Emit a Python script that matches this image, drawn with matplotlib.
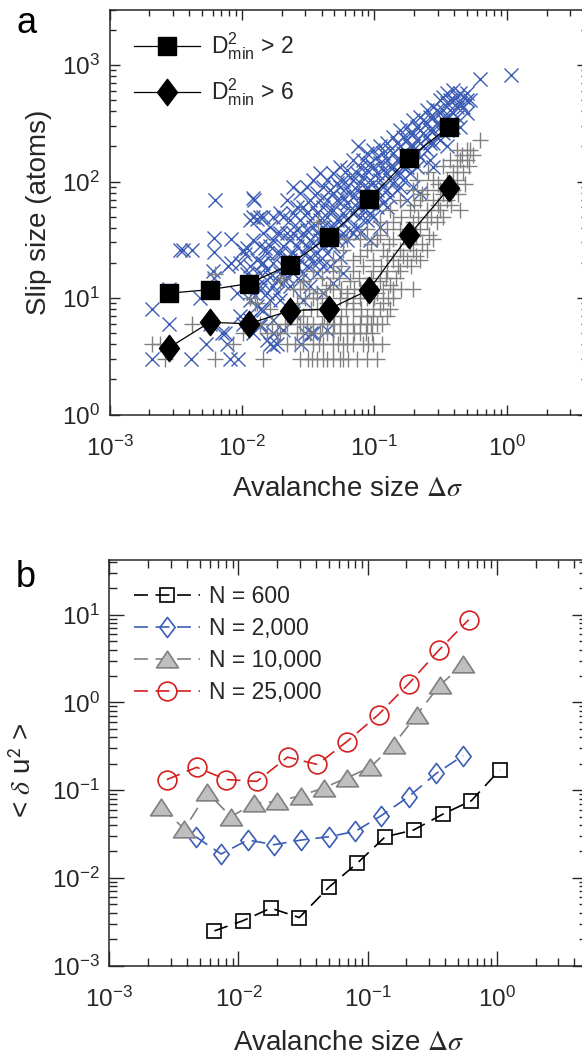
import matplotlib
matplotlib.use("Agg")
import matplotlib.pyplot as plt
from matplotlib.path import Path
from matplotlib.ticker import LogLocator, NullFormatter
import numpy as np

plt.rcParams["font.family"] = ["Liberation Sans", "DejaVu Sans"]
plt.rcParams["mathtext.fontset"] = "custom"
plt.rcParams["mathtext.rm"] = "Liberation Sans"
plt.rcParams["mathtext.it"] = "Liberation Sans:italic"
plt.rcParams["mathtext.bf"] = "Liberation Sans:bold"
plt.rcParams["axes.unicode_minus"] = False
plt.rcParams["lines.scale_dashes"] = False

INK = "#262626"
BLUE = "#3b5db5"
GRAY = "#808080"
RED = "#d42020"

# ---------------- panel a: slip size vs avalanche size ----------------
# avalanches with slipped atoms D2min > 2 (blue crosses)
blue_x = [
    0.0021, 0.0021, 0.0028, 0.0028, 0.0034, 0.0036, 0.0042, 0.0041, 0.0048, 0.0054,
    0.0063, 0.0062, 0.0062, 0.0062, 0.0077, 0.0081, 0.0082, 0.0082, 0.0094, 0.0091,
    0.0102, 0.0105, 0.0122, 0.0124, 0.0122, 0.0129, 0.0145, 0.0149, 0.0141, 0.0102,
    0.0096, 0.0074, 0.0057, 0.0061, 0.0079, 0.0109, 0.0097, 0.0109, 0.0071, 0.0163,
    0.0183, 0.0172, 0.0137, 0.0140, 0.0300, 0.0330, 0.0280,
    0.0115, 0.0115, 0.0115, 0.0115, 0.0115,
    0.0122, 0.0122, 0.0122, 0.0122,
    0.0129, 0.0129, 0.0129,
    0.0137, 0.0137, 0.0137, 0.0137, 0.0137,
    0.0145, 0.0145, 0.0145, 0.0145,
    0.0154, 0.0154, 0.0154, 0.0154,
    0.0163, 0.0163, 0.0163, 0.0163,
    0.0173, 0.0173, 0.0173, 0.0173, 0.0173, 0.0173,
    0.0183, 0.0183, 0.0183, 0.0183,
    0.0194, 0.0194, 0.0194, 0.0194, 0.0194,
    0.0206, 0.0206, 0.0206, 0.0206, 0.0206,
    0.0218, 0.0218, 0.0218, 0.0218,
    0.0231, 0.0231, 0.0231, 0.0231,
    0.0245, 0.0245, 0.0245, 0.0245, 0.0245, 0.0245,
    0.0259, 0.0259, 0.0259, 0.0259,
    0.0275, 0.0275, 0.0275, 0.0275, 0.0275,
    0.0291, 0.0291, 0.0291, 0.0291, 0.0291,
    0.0308, 0.0308, 0.0308, 0.0308, 0.0308,
    0.0327, 0.0327, 0.0327, 0.0327, 0.0327,
    0.0346, 0.0346, 0.0346, 0.0346, 0.0346, 0.0346,
    0.0367, 0.0367, 0.0367, 0.0367, 0.0367,
    0.0389, 0.0389, 0.0389, 0.0389, 0.0389,
    0.0412, 0.0412, 0.0412, 0.0412, 0.0412, 0.0412,
    0.0437, 0.0437, 0.0437, 0.0437, 0.0437, 0.0437,
    0.0463, 0.0463, 0.0463, 0.0463, 0.0463,
    0.0491, 0.0491, 0.0491, 0.0491, 0.0491, 0.0491,
    0.0520, 0.0520, 0.0520, 0.0520,
    0.0551, 0.0551, 0.0551, 0.0551, 0.0551, 0.0551,
    0.0584, 0.0584, 0.0584, 0.0584, 0.0584,
    0.0619, 0.0619, 0.0619, 0.0619, 0.0619,
    0.0655, 0.0655, 0.0655, 0.0655,
    0.0695, 0.0695, 0.0695, 0.0695, 0.0695,
    0.0736, 0.0736, 0.0736, 0.0736,
    0.0757,
    0.0780, 0.0780, 0.0780, 0.0780, 0.0780,
    0.0826, 0.0826, 0.0826, 0.0826,
    0.0876, 0.0876, 0.0876, 0.0876, 0.0876,
    0.0928, 0.0928, 0.0928, 0.0928, 0.0928,
    0.0984, 0.0984, 0.0984, 0.0984, 0.0984,
    0.1042, 0.1042, 0.1042, 0.1042,
    0.110, 0.110, 0.110, 0.110, 0.110,
    0.117, 0.117, 0.117, 0.117,
    0.124, 0.124, 0.124, 0.124, 0.124,
    0.1314, 0.1314, 0.1314, 0.1314,
    0.139, 0.139, 0.139, 0.139,
    0.1476, 0.1476, 0.1476, 0.1476,
    0.156, 0.156, 0.156, 0.156, 0.156,
    0.1657, 0.1657, 0.1657, 0.1657,
    0.176, 0.176, 0.176, 0.176, 0.176,
    0.186, 0.186, 0.186, 0.186,
    0.197, 0.197, 0.197, 0.197, 0.197,
    0.209, 0.209, 0.209, 0.209,
    0.221, 0.221, 0.221, 0.221, 0.221,
    0.2346, 0.2346, 0.2346,
    0.249, 0.249, 0.249, 0.249,
    0.2635, 0.2635, 0.2635, 0.2635,
    0.279, 0.279, 0.279, 0.279, 0.279,
    0.296, 0.296, 0.296,
    0.313, 0.313, 0.313, 0.313,
    0.332, 0.332, 0.332, 0.332,
    0.352, 0.352, 0.352, 0.352, 0.352,
    0.373, 0.373, 0.373,
    0.395, 0.395, 0.395, 0.395,
    0.419, 0.419, 0.419,
    0.444, 0.444, 0.444,
    0.471, 0.471,
    0.499, 0.499, 0.499,
    0.529, 0.628, 1.07,
]
blue_y = [
    8, 3, 6, 12, 26, 26, 26, 3, 10, 4,
    70, 33, 25, 15, 4, 3, 32, 20, 3, 11,
    26, 24, 72, 69, 50, 48, 50, 27, 20, 6,
    7, 5, 6, 17, 19, 27, 20, 16, 5, 4,
    4, 5, 6, 8, 5, 5, 4,
    47, 18.7, 13.4, 9.7, 6.5,
    31.6, 15.3, 11, 5,
    21.3, 12.6, 8.5,
    50, 27.7, 16.4, 11.8, 5.7,
    36, 19.9, 13.4, 7.9,
    24.3, 17.5, 11, 4.4,
    41, 27.7, 15.3, 9.7,
    50, 31.6, 19.9, 12.6, 6.5, 3.85,
    36, 24.3, 14.4, 11,
    53.5, 36, 24.3, 16.4, 9.7,
    50, 27.7, 18.7, 13.4, 5.3,
    69.6, 36, 22.7, 15.3,
    46.9, 31.6, 21.3, 12.6,
    90.6, 53.5, 36, 24.3, 16.4, 7.4,
    61, 38.5, 27.7, 18.7,
    79.4, 46.9, 31.6, 21.3, 14.4,
    61, 36, 24.3, 16.4, 9.7,
    90.6, 53.5, 38.5, 27.7, 18.7,
    69.6, 46.9, 31.6, 22.7, 12.6,
    103, 61, 41, 29.6, 19.9, 5,
    79.4, 53.5, 36, 24.3, 16.4,
    118, 69.6, 46.9, 31.6, 21.3,
    90.6, 61, 41, 27.7, 18.7, 11,
    103, 69.6, 50, 36, 24.3, 5.3,
    84.8, 57.1, 41, 29.6, 18.7,
    118, 79.4, 57.1, 41, 27.7, 13.4,
    96.8, 69.6, 46.9, 31.6,
    134, 90.6, 65.2, 46.9, 33.8, 22.7,
    103, 74.3, 53.5, 36, 16.4,
    126, 90.6, 65.2, 46.9, 31.6,
    110, 79.4, 57.1, 38.5,
    153, 103, 74.3, 53.5, 36,
    118, 84.8, 61, 41,
    200,
    134, 96.8, 69.6, 50, 36,
    153, 110, 79.4, 57.1,
    175, 126, 90.6, 65.2, 46.9,
    144, 103, 74.3, 53.5, 31.6,
    187, 134, 96.8, 69.6, 50,
    164, 118, 84.8, 61,
    200, 144, 103, 74.3, 41,
    175, 126, 90.6, 65.2,
    213, 153, 118, 84.8, 61,
    187, 134, 103, 74.3,
    243, 175, 134, 96.8,
    213, 153, 118, 84.8,
    277, 200, 153, 118, 90.6,
    243, 175, 134, 103,
    296, 227, 175, 134, 69.6,
    259, 200, 153, 118,
    338, 259, 200, 153, 90.6,
    296, 227, 175, 134,
    361, 277, 213, 164, 79.4,
    338, 259, 200,
    411, 316, 243, 187,
    361, 277, 213, 153,
    439, 361, 277, 213, 134,
    411, 316, 243,
    501, 385, 296, 227,
    535, 411, 338, 259,
    571, 469, 361, 277, 200,
    501, 411, 316,
    611, 501, 385, 296,
    535, 439, 361,
    571, 469, 296,
    535, 439,
    571, 501, 385,
    501, 753, 820,
]

# avalanches with slipped atoms D2min > 6 (gray pluses)
gray_x = [
    0.00208, 0.0024, 0.00262, 0.00417, 0.00627, 0.00627, 0.00861, 0.0129, 0.0137, 0.0154,
    0.0145, 0.0183, 0.0194, 0.0102, 0.0115, 0.0125, 0.0163, 0.0170, 0.0206, 0.0245,
    0.0290, 0.0194, 0.0210,
    0.0275, 0.0317, 0.0367, 0.0437, 0.0491, 0.0551, 0.0637, 0.1042,
    0.0218, 0.0291, 0.0346, 0.0412, 0.0491, 0.0584, 0.0695, 0.0826, 0.0984, 0.1137,
    0.0259, 0.0327, 0.0389, 0.0491, 0.0619, 0.0780,
    0.0218, 0.0275, 0.0346, 0.0437, 0.0551, 0.0695, 0.0876, 0.1042,
    0.0231, 0.0291, 0.0367, 0.0491, 0.0695, 0.0876, 0.110, 0.124,
    0.0259, 0.0346, 0.0437, 0.0551, 0.0695, 0.0876, 0.117, 0.139,
    0.0275, 0.0367, 0.0491, 0.0619, 0.0780, 0.1042, 0.139, 0.197,
    0.0291, 0.0463, 0.0655, 0.0876, 0.110, 0.1314,
    0.0346, 0.0491, 0.0695, 0.0984, 0.124, 0.156,
    0.0491, 0.0695, 0.0984, 0.139, 0.176, 0.221,
    0.0584, 0.0876, 0.117, 0.156, 0.197, 0.249,
    0.0619, 0.0780, 0.1042, 0.139, 0.176, 0.279,
    0.0876, 0.124, 0.156, 0.221,
    0.0378, 0.110, 0.139, 0.197, 0.249, 0.296,
    0.1314, 0.186, 0.249, 0.313, 0.444,
    0.156, 0.221, 0.279, 0.352,
    0.197, 0.249, 0.313, 0.395,
    0.209, 0.279, 0.352, 0.419,
    0.256, 0.395, 0.471,
    0.373, 0.444, 0.499,
    0.419, 0.499, 0.529,
    0.628,
    0.0340, 0.0410, 0.0580, 0.0740, 0.0880,
    0.0250, 0.0380, 0.0530, 0.0620, 0.0900,
    0.0290, 0.0440, 0.0550, 0.0700, 0.0870, 0.0960,
    0.0310, 0.0400, 0.0500, 0.0620, 0.0780, 0.0950, 0.115,
    0.0260, 0.0420, 0.0560, 0.0790, 0.0980,
    0.0330, 0.0450, 0.0610, 0.0790, 0.0980, 0.132,
    0.0300, 0.0400, 0.0620, 0.0780, 0.100, 0.126,
    0.0320, 0.0430, 0.0560, 0.0700, 0.0920, 0.117, 0.160,
    0.0400, 0.0540, 0.0760, 0.0940, 0.122, 0.145,
    0.0560, 0.0820, 0.112, 0.150, 0.190,
    0.0780, 0.125, 0.165, 0.205,
    0.0950, 0.130, 0.185, 0.230,
    0.110, 0.170, 0.205, 0.260,
    0.160, 0.215, 0.270, 0.330,
    0.200, 0.300, 0.380,
    0.230, 0.330, 0.430,
    0.300, 0.380, 0.480,
    0.330, 0.420, 0.520,
    0.460, 0.560,
]
gray_y = [
    4, 4, 3, 6, 16, 3, 4, 9, 6, 5,
    3, 5, 14, 5, 10, 9, 8, 6, 15, 12,
    14, 5, 6,
    3, 3, 3, 3, 3, 3, 3, 3,
    4, 4, 4, 4, 4, 4, 4, 4, 4, 4,
    5, 5, 5, 5, 5, 5,
    6, 6, 6, 6, 6, 6, 6, 6,
    8, 7, 8, 7, 8, 7, 8, 7,
    9, 10, 9, 10, 9, 10, 9, 10,
    12, 11, 12, 11, 12, 11, 12, 12,
    14, 13, 14, 13, 14, 13,
    17, 17, 17, 17, 17, 17,
    21, 21, 21, 21, 21, 21,
    26, 26, 26, 26, 26, 26,
    32, 32, 32, 32, 32, 32,
    39, 39, 39, 39,
    45, 45, 45, 45, 45, 45,
    57, 57, 57, 57, 57,
    70, 70, 70, 70,
    85, 85, 85, 85,
    103, 103, 103, 103,
    120, 120, 120,
    153, 153, 153,
    187, 187, 187,
    227,
    3, 3, 3, 3, 3,
    4, 4, 4, 4, 4,
    5, 5, 5, 5, 5, 5,
    6, 6, 6, 6, 6, 6, 6,
    7, 7, 7, 7, 7,
    8, 8, 8, 8, 8, 8,
    10, 10, 10, 10, 10, 10,
    12, 12, 12, 12, 12, 12, 12,
    15, 15, 15, 15, 15, 15,
    19, 19, 19, 19, 19,
    23, 23, 23, 23,
    29, 29, 29, 29,
    35, 35, 35, 35,
    50, 50, 50, 50,
    63, 63, 63,
    78, 78, 78,
    95, 95, 95,
    135, 135, 135,
    170, 170,
]

# binned averages
bin_x = [0.0028, 0.0057, 0.0113, 0.0229, 0.0455, 0.0914, 0.184, 0.366]
slip_d2 = [11.0, 11.8, 13.3, 19.3, 33.7, 70.5, 160, 296]
slip_d6 = [3.73, 6.18, 6.02, 7.78, 8.04, 11.8, 34.9, 87.6]

# ---------------- panel b: mean squared displacement ----------------
n600_x = [0.00652, 0.0108, 0.0178, 0.0296, 0.0505, 0.0828, 0.137, 0.227, 0.384, 0.637, 1.055]
n600_y = [0.00249, 0.00324, 0.00452, 0.00353, 0.0079, 0.0146, 0.0294, 0.0351, 0.0534, 0.0759, 0.170]

n2000_x = [0.00468, 0.00734, 0.0118, 0.0189, 0.0306, 0.0499, 0.0804, 0.1276, 0.208, 0.341, 0.55]
n2000_y = [0.0294, 0.0187, 0.0270, 0.0239, 0.0270, 0.0294, 0.0339, 0.0512, 0.0843, 0.1556, 0.248]

n10000_x = [0.00252, 0.00382, 0.00575, 0.00873, 0.0133, 0.0200, 0.0305, 0.0456, 0.0692,
            0.105, 0.159, 0.2415, 0.361, 0.55]
n10000_y = [0.0637, 0.0360, 0.0944, 0.0498, 0.0707, 0.0745, 0.0865, 0.106, 0.138,
            0.182, 0.330, 0.728, 1.56, 2.71]

n25000_x = [0.00279, 0.00475, 0.00803, 0.0139, 0.0240, 0.0409, 0.0692, 0.1216, 0.208, 0.355, 0.607]
n25000_y = [0.132, 0.182, 0.132, 0.126, 0.238, 0.196, 0.358, 0.728, 1.63, 3.91, 8.77]

xlim_a = (1e-3, 4.0)
ylim_a = (1.0, 3000.0)
xlim_b = (1e-3, 5.0)
ylim_b = (1e-3, 42.0)

# marker shapes: tall diamond and wide triangle
tall_diamond = Path([(0, 1), (0.76, 0), (0, -1), (-0.76, 0), (0, 1)], closed=True)
wide_triangle = Path([(-1, -0.76), (1, -0.76), (0, 0.76), (-1, -0.76)], closed=True)

W, H = 582, 1054
fig = plt.figure(figsize=(W / 100, H / 100), dpi=100)


def frac(left, top, right, bottom):
    return [left / W, 1 - bottom / H, (right - left) / W, (bottom - top) / H]


def style_axes(ax, major_len, minor_len):
    ax.set_xscale("log")
    ax.set_yscale("log")
    for axis in (ax.xaxis, ax.yaxis):
        axis.set_major_locator(LogLocator(base=10, numticks=20))
        axis.set_minor_locator(LogLocator(base=10, subs=np.arange(2, 10), numticks=20))
        axis.set_minor_formatter(NullFormatter())
    ax.tick_params(which="both", direction="in", top=True, right=True,
                   color=INK, width=1.0, labelcolor=INK, labelsize=17.5)
    ax.tick_params(which="major", length=major_len)
    ax.tick_params(which="minor", length=minor_len)
    ax.tick_params(axis="x", which="major", pad=15)
    ax.tick_params(axis="y", which="major", pad=7)
    for s in ax.spines.values():
        s.set_linewidth(1.1)
        s.set_color(INK)


# ---- panel a ----
ax_a = fig.add_axes(frac(109.5, 9.5, 586.5, 414.5))
style_axes(ax_a, 7.5, 4.0)
ax_a.plot(blue_x, blue_y, ls="none", marker="x", ms=9.5, mew=1.0, color=BLUE)
ax_a.plot(gray_x, gray_y, ls="none", marker="+", ms=12, mew=1.0, color=GRAY)
h_sq, = ax_a.plot(bin_x, slip_d2, "-", color="k", lw=0.9, marker="s", ms=12.5, mfc="k", mec="k")
h_di, = ax_a.plot(bin_x, slip_d6, "-", color="k", lw=0.9, marker=tall_diamond, ms=19, mfc="k", mec="k")
ax_a.set_xlim(*xlim_a)
ax_a.set_ylim(*ylim_a)
ax_a.set_xlabel(r"Avalanche size $\Delta\sigma$", fontsize=20, color=INK, math_fontfamily="stix")
ax_a.xaxis.set_label_coords(0.5, -0.152)
ax_a.set_ylabel("Slip size (atoms)", fontsize=20, color=INK)
ax_a.yaxis.set_label_coords(-0.1205, 0.5)
ax_a.legend([h_sq, h_di],
            [r"D$^{2}_{\mathrm{min}}$ > 2", r"D$^{2}_{\mathrm{min}}$ > 6"],
            loc="upper left", bbox_to_anchor=(0.051, 0.948), frameon=False,
            fontsize=16.5, handlelength=2.9, handletextpad=0.45, labelspacing=0.63,
            borderaxespad=0.0, borderpad=0.0, numpoints=1, labelcolor=INK)

# ---- panel b ----
ax_b = fig.add_axes(frac(109.3, 560, 587, 965.6))
style_axes(ax_b, 11, 5.8)
dash = (0, (10, 5.5))
common = dict(ls=dash, lw=1.2, mew=1.2)
h600, = ax_b.plot(n600_x, n600_y, color="k", marker="s", ms=9.5, mfc="none", mec="k", **common)
h2000, = ax_b.plot(n2000_x, n2000_y, color=BLUE, marker=tall_diamond, ms=14.5, mfc="none", mec=BLUE, **common)
h10000, = ax_b.plot(n10000_x, n10000_y, color=GRAY, marker=wide_triangle, ms=15.8, mfc="#bfbfbf", mec=GRAY, **common)
h25000, = ax_b.plot(n25000_x, n25000_y, color=RED, marker="o", ms=13.5, mfc="none", mec=RED, **common)
ax_b.set_xlim(*xlim_b)
ax_b.set_ylim(*ylim_b)
ax_b.set_xlabel(r"Avalanche size $\Delta\sigma$", fontsize=20, color=INK, math_fontfamily="stix")
ax_b.xaxis.set_label_coords(0.5, -0.159)
ax_b.set_ylabel(r"< $\delta$ u$^{\mathsf{2}}$ >", fontsize=20, color=INK, math_fontfamily="stix")
ax_b.yaxis.set_label_coords(-0.151, 0.482)
ax_b.legend([h600, h2000, h10000, h25000],
            ["N = 600", "N = 2,000", "N = 10,000", "N = 25,000"],
            loc="upper left", bbox_to_anchor=(0.051, 0.938), frameon=False,
            fontsize=16.5, handlelength=2.9, handletextpad=0.4, labelspacing=0.39,
            borderaxespad=0.0, borderpad=0.0, numpoints=1, labelcolor=INK)

# panel letters
fig.text(16 / W, 1 - 33 / H, "a", fontsize=26, color="k", va="baseline", ha="left")
fig.text(16 / W, 1 - 587 / H, "b", fontsize=26, color="k", va="baseline", ha="left")

fig.savefig("out.png", dpi=100)
